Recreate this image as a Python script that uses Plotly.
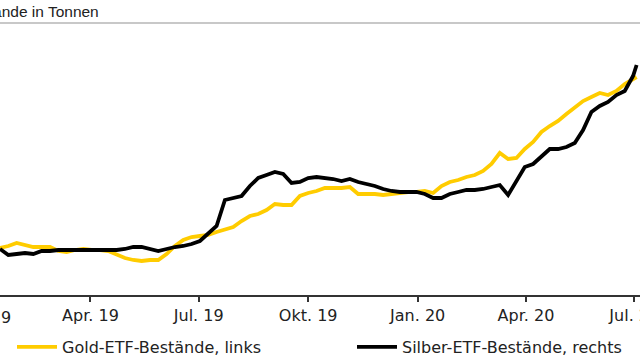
import pandas as pd
import plotly.graph_objects as go

# weekly observation dates (Jan 15 2019 ... Jun 30 2020) plus last point Jul 3 2020
dates = list(pd.date_range("2019-01-15", periods=77, freq="7D").strftime("%Y-%m-%d")) + ["2020-07-03"]

gold_t = [2429, 2443, 2464, 2450, 2436, 2436, 2436, 2408, 2401, 2415,
          2422, 2415, 2415, 2408, 2380, 2359, 2345, 2338, 2345, 2345,
          2387, 2443, 2485, 2506, 2513, 2520, 2541, 2562, 2576, 2618,
          2653, 2667, 2695, 2737, 2730, 2730, 2793, 2814, 2828, 2849,
          2849, 2849, 2856, 2807, 2807, 2807, 2800, 2807, 2814, 2821,
          2821, 2828, 2814, 2863, 2891, 2905, 2926, 2940, 2968, 3017,
          3094, 3052, 3059, 3122, 3171, 3241, 3283, 3318, 3367, 3409,
          3458, 3486, 3514, 3500, 3528, 3577, 3612, 3626]

silver_t = [16500, 16200, 16250, 16300, 16250, 16400, 16400, 16450, 16450, 16450,
            16450, 16450, 16450, 16450, 16450, 16500, 16600, 16600, 16500, 16400,
            16500, 16600, 16650, 16750, 16900, 17300, 17650, 18950, 19050, 19150,
            19650, 20050, 20200, 20350, 20250, 19800, 19850, 20050, 20100, 20050,
            20000, 19900, 20000, 19850, 19750, 19650, 19500, 19400, 19350, 19350,
            19350, 19250, 19050, 19050, 19250, 19350, 19450, 19450, 19500, 19600,
            19700, 19200, 19900, 20600, 20750, 21100, 21500, 21500, 21600, 21800,
            22450, 23350, 23650, 23850, 24200, 24400, 25150, 25700]

tick_vals = ["2019-04-01", "2019-07-01", "2019-10-01", "2020-01-01", "2020-04-01", "2020-07-01"]
tick_text = ["Apr. 19", "Jul. 19", "Okt. 19", "Jan. 20", "Apr. 20", "Jul. 20"]
first_tick = ("2019-01-01", "Jan. 19")

x_range = ["2019-01-15", "2020-07-05 20:00"]
gold_range = [2100, 3955]
silver_range = [14200, 27450]

FONT = "DejaVu Sans"
TITLE_FONT = "Liberation Sans"
TXT = "#222222"
YELLOW = "#FFCC00"

fig = go.Figure()
fig.add_trace(go.Scatter(x=dates, y=gold_t, mode="lines", name="Gold-ETF-Bestände, links",
                         line=dict(color=YELLOW, width=3.8), yaxis="y", legend="legend"))
fig.add_trace(go.Scatter(x=dates, y=silver_t, mode="lines", name="Silber-ETF-Bestände, rechts",
                         line=dict(color="#000000", width=3.8), yaxis="y2", legend="legend2"))

# position of the partly visible first tick label, via the axis range
r0 = pd.Timestamp(x_range[0]); r1 = pd.Timestamp(x_range[1])
first_frac = (pd.Timestamp(first_tick[0]) - r0) / (r1 - r0)

leg_common = dict(orientation="h", xref="container", yref="container", y=0.036,
                  xanchor="left", yanchor="middle", itemwidth=40,
                  font=dict(family=FONT, size=16, color=TXT), bgcolor="rgba(0,0,0,0)")

fig.update_layout(
    width=640, height=360,
    margin=dict(l=0, r=0, t=30, b=65, autoexpand=False),
    paper_bgcolor="white", plot_bgcolor="white",
    font=dict(family=FONT, size=16, color=TXT),
    showlegend=True,
    legend=dict(x=12 / 640, **leg_common),
    legend2=dict(x=352 / 640, **leg_common),
    xaxis=dict(type="date", range=x_range, tickvals=tick_vals, ticktext=tick_text,
               showgrid=False, zeroline=False, showline=True, linecolor="#333333", linewidth=1.5,
               ticks="outside", ticklen=5, tickwidth=1.5, tickcolor="#333333",
               ticklabeloverflow="allow", tickfont=dict(family=FONT, size=16, color=TXT)),
    yaxis=dict(range=gold_range, showgrid=False, zeroline=False, showticklabels=False,
               showline=False, ticks=""),
    yaxis2=dict(range=silver_range, overlaying="y", side="right", showgrid=False,
                zeroline=False, showticklabels=False, showline=False, ticks=""),
    annotations=[
        dict(text="Bestände in Tonnen", xref="paper", yref="paper", x=101 / 640, y=1,
             xanchor="right", yanchor="middle", yshift=19, showarrow=False,
             font=dict(family=TITLE_FONT, size=15.5, color=TXT)),
        dict(text=first_tick[1], xref="paper", yref="paper", x=first_frac, y=0,
             xanchor="center", yanchor="middle", yshift=-22, showarrow=False,
             font=dict(family=FONT, size=16, color=TXT)),
    ],
    shapes=[dict(type="line", xref="paper", yref="paper", x0=0, x1=1, y0=1 + 7 / 265, y1=1 + 7 / 265,
                 line=dict(color="#C8C8C8", width=2))],
)

fig.write_html("out.html", config={"displayModeBar": False},
               post_script="document.body.style.margin='0';document.body.style.overflow='hidden';")
